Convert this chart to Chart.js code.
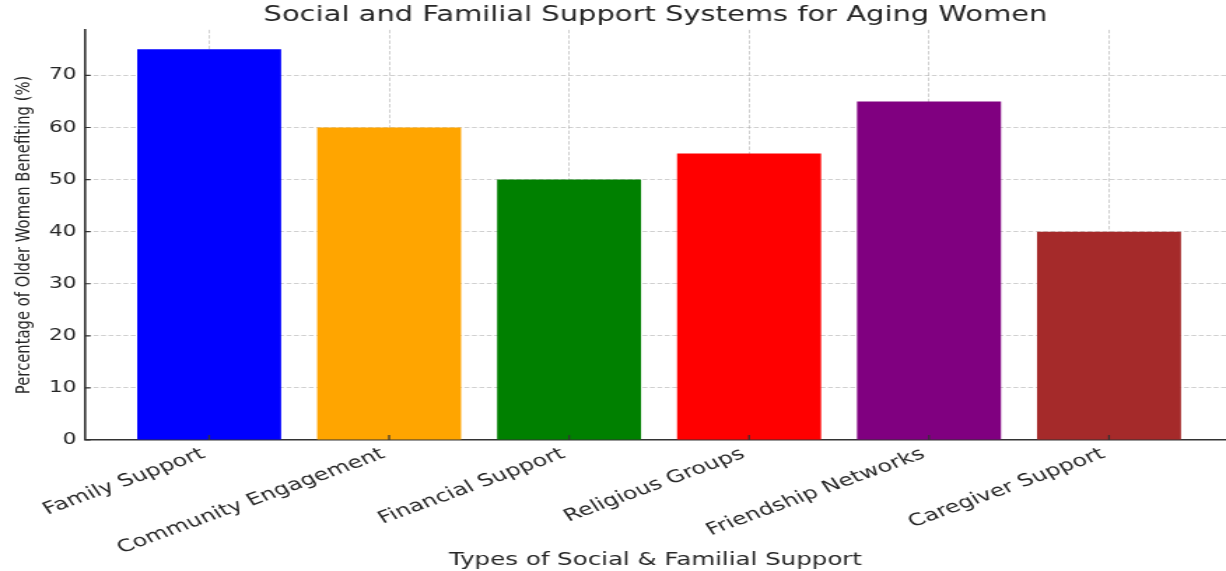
<!DOCTYPE html>
<html>
<head>
<meta charset="utf-8">
<script src="https://cdn.jsdelivr.net/npm/chart.js@4"></script>
<style>
  html, body { margin: 0; padding: 0; background: #fff; overflow: hidden; }
  /* the reference is stretched sideways, so draw narrow and scale out */
  #wrap { width: 876px; height: 571px; transform: scaleX(1.3995); transform-origin: 0 0; }
</style>
</head>
<body>
<div id="wrap"><canvas id="myChart"></canvas></div>
<script>
const categories = ['Family Support', 'Community Engagement', 'Financial Support', 'Religious Groups', 'Friendship Networks', 'Caregiver Support'];
const percentages = [75, 60, 50, 55, 65, 40];
const barColors = ['#0000ff', '#ffa500', '#008000', '#ff0000', '#800080', '#a52a2a'];
const yTicks = [0, 10, 20, 30, 40, 50, 60, 70];

const textColor = '#262626';
const gridColor = 'rgba(176, 176, 176, 0.6)';

// small inward tick marks like the original
const innerTicks = {
    id: 'innerTicks',
    afterDraw(chart) {
        const { ctx, chartArea, scales } = chart;
        ctx.save();
        ctx.strokeStyle = '#333';
        ctx.lineWidth = 1.2;
        ctx.beginPath();
        scales.y.ticks.forEach(t => {
            const py = scales.y.getPixelForValue(t.value);
            ctx.moveTo(chartArea.left, py);
            ctx.lineTo(chartArea.left + 4, py);
        });
        scales.x.ticks.forEach(t => {
            const px = scales.x.getPixelForValue(t.value);
            ctx.moveTo(px, chartArea.bottom);
            ctx.lineTo(px, chartArea.bottom - 5);
        });
        ctx.stroke();
        ctx.restore();
    }
};

const data = {
    datasets: [
        {
            label: 'Percentage',
            data: percentages.map((v, i) => ({ x: i, y: v })),
            backgroundColor: barColors,
            borderWidth: 0,
            barPercentage: 0.8,
            categoryPercentage: 1.0,
        },
    ]
};

const config = {
    type: 'bar',
    data: data,
    plugins: [innerTicks],
    options: {
        responsive: true,
        maintainAspectRatio: false,
        animation: false,
        layout: { padding: 0 },
        plugins: {
            legend: { display: false },
            tooltip: { enabled: false },
            title: {
                display: true,
                fullSize: false,
                text: 'Social and Familial Support Systems for Aging Women',
                color: textColor,
                font: { family: 'DejaVu Sans', size: 20.7, weight: 'normal' },
                padding: { top: 3, bottom: 2 },
            }
        },
        scales: {
            x: {
                type: 'linear',
                min: -0.69,
                max: 5.65,
                offset: false,
                z: 1,
                grid: {
                    offset: false,
                    color: gridColor,
                    drawTicks: false,
                },
                border: { display: true, color: '#333', width: 1.6, dash: [3.5, 1.8] },
                ticks: {
                    stepSize: 1,
                    includeBounds: false,
                    autoSkip: false,
                    minRotation: 27,
                    maxRotation: 27,
                    padding: 4,
                    labelOffset: -4,
                    color: textColor,
                    font: { family: 'DejaVu Sans', size: 17 },
                    callback: (v) => categories[v] ?? '',
                },
                title: {
                    display: true,
                    text: 'Types of Social & Familial Support',
                    color: textColor,
                    font: { family: 'DejaVu Sans', size: 17.5 },
                    padding: { top: 0, bottom: 0 },
                },
                afterFit: (s) => { s.height = 131; },
            },
            y: {
                min: 0,
                max: 78.75,
                z: 1,
                grid: {
                    color: (ctx) => ctx.tick && ctx.tick.value === 0 ? 'rgba(0,0,0,0)' : gridColor,
                    drawTicks: false,
                },
                border: { display: true, color: '#333', width: 1.6, dash: [3.5, 1.8] },
                afterBuildTicks: (s) => { s.ticks = yTicks.map(v => ({ value: v })); },
                ticks: {
                    padding: 6,
                    color: textColor,
                    font: { family: 'DejaVu Sans', size: 15.5 },
                },
                title: {
                    display: true,
                    text: 'Percentage of Older Women Benefiting (%)',
                    color: textColor,
                    font: { family: 'DejaVu Sans', size: 14.8 },
                    padding: { top: 8, bottom: 0 },
                },
                afterFit: (s) => { s.width = 60.7; },
            }
        }
    },
};

const myChart = new Chart(document.getElementById('myChart'), config);
</script>
</body>
</html>
